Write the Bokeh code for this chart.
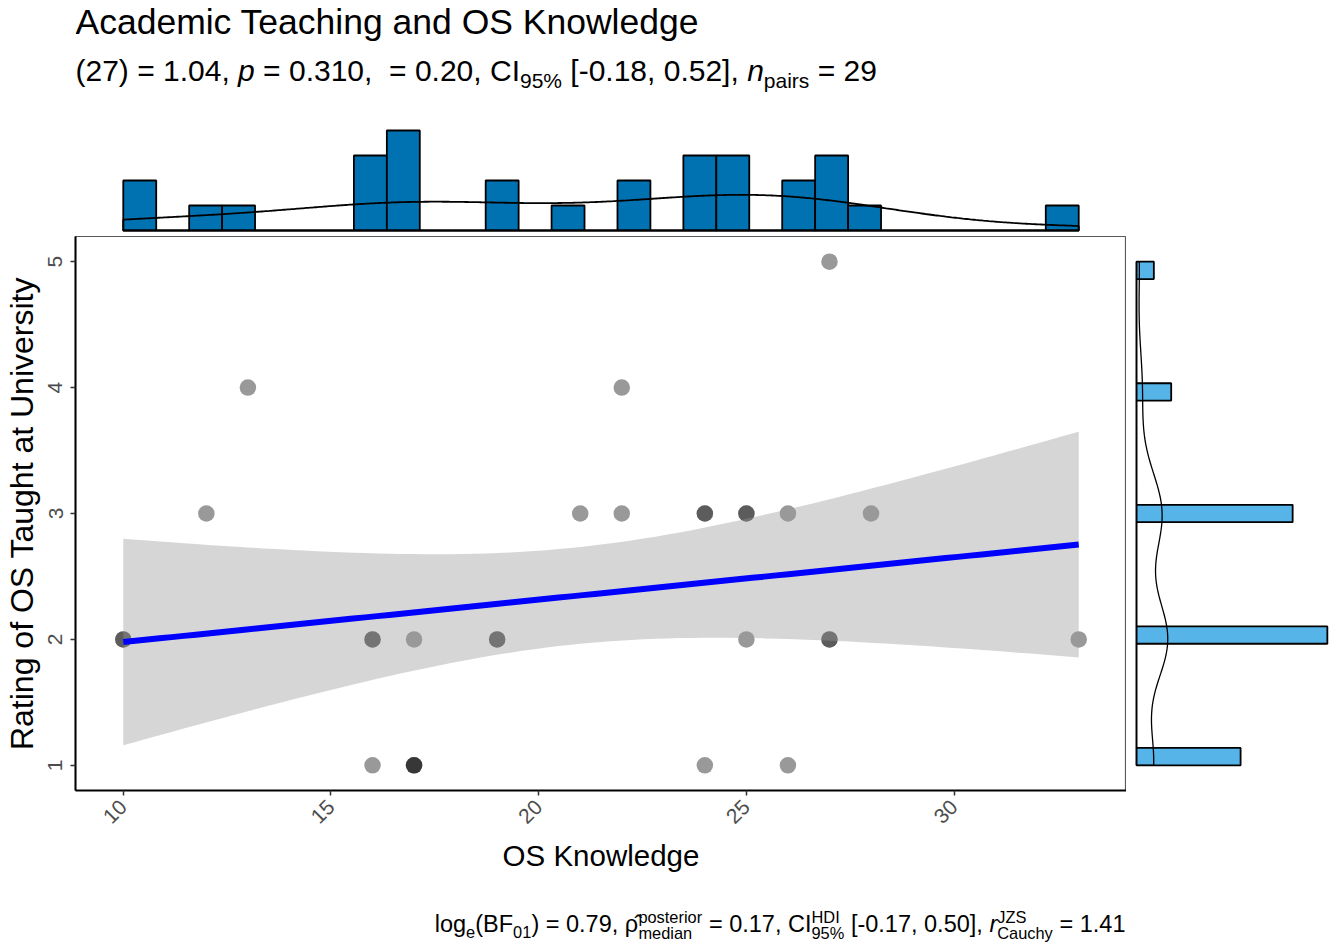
import numpy as np
from bokeh.plotting import figure
from bokeh.models import Range1d, FixedTicker, Label
from bokeh.layouts import column, row
from bokeh.embed import file_html
from bokeh.resources import INLINE

# ---------------- data ----------------
os_knowledge = [10, 10, 12, 13, 16, 16, 16, 17, 17, 17, 17, 19, 19, 21, 22,
                22, 24, 24, 24, 25, 25, 25, 26, 26, 27, 27, 27, 28, 33]
os_rating = [2, 2, 3, 4, 2, 2, 1, 2, 1, 1, 1, 2, 2, 3, 4,
             3, 3, 3, 1, 3, 3, 2, 3, 1, 5, 2, 2, 3, 2]
x_ticks = [10, 15, 20, 25, 30]
y_ticks = [1, 2, 3, 4, 5]

title_text = "Academic Teaching and OS Knowledge"
x_label = "OS Knowledge"
y_label = "Rating of OS Taught at University"
subtitle_parts = [("(27) = 1.04, ", "n"), ("p", "i"), (" = 0.310,", "n"),
                  ("  = 0.20, CI", "n"), ("95%", "sub"), (" [-0.18, 0.52], ", "n"),
                  ("n", "i"), ("pairs", "sub"), (" = 29", "n")]
caption_parts = [("log", "n"), ("e", "sub"), ("(BF", "n"), ("01", "sub"),
                 (") = 0.79, ", "n"), ("\u03c1\u0302", "n"), (("posterior", "median"), "stack"),
                 (" = 0.17, CI", "n"), (("HDI", "95%"), "stack"),
                 (" [-0.17, 0.50], ", "n"), ("r", "i"), (("JZS", "Cauchy"), "stack"),
                 (" = 1.41", "n")]
t_crit_df27 = 2.0518  # 97.5% quantile of t with 27 df

FONT = "Liberation Sans"
TOP_FILL = "#0072B2"
RIGHT_FILL = "#56B4E9"

x = np.asarray(os_knowledge, float)
y = np.asarray(os_rating, float)
n = len(x)

# ---------------- derived statistics ----------------
xbar, ybar = x.mean(), y.mean()
sxx = ((x - xbar) ** 2).sum()
slope = ((x - xbar) * (y - ybar)).sum() / sxx
icpt = ybar - slope * xbar
resid = y - (icpt + slope * x)
s_res = np.sqrt((resid ** 2).sum() / (n - 2))
xg = np.linspace(x.min(), x.max(), 80)
fit = icpt + slope * xg
se = s_res * np.sqrt(1.0 / n + (xg - xbar) ** 2 / sxx)
lo_band = fit - t_crit_df27 * se
hi_band = fit + t_crit_df27 * se


def kde(data, grid):
    d = np.asarray(data, float)
    m = len(d)
    sd = d.std(ddof=1)
    q75, q25 = np.percentile(d, [75, 25])
    spread = min(sd, (q75 - q25) / 1.34) if q75 > q25 else sd
    bw = 0.9 * spread * m ** -0.2
    z = (grid[:, None] - d[None, :]) / bw
    return np.exp(-0.5 * z ** 2).sum(1) / (m * bw * np.sqrt(2 * np.pi))


NBINS = 29
hx_counts, hx_edges = np.histogram(x, bins=NBINS, range=(x.min(), x.max()))
hy_counts, hy_edges = np.histogram(y, bins=NBINS, range=(y.min(), y.max()))
wx = hx_edges[1] - hx_edges[0]
wy = hy_edges[1] - hy_edges[0]
gx = np.linspace(x.min(), x.max(), 512)
gy = np.linspace(y.min(), y.max(), 512)
dx = kde(x, gx) * n * wx
dy = kde(y, gy) * n * wy

# ---------------- geometry (page pixels) ----------------
PAGE_W = 1331
TITLE_B = 100          # bottom of title block
PANEL_L, PANEL_R, PANEL_T, PANEL_B = 75, 1126, 236, 790
AXIS_B = 880           # bottom of main figure (below axis titles)
PAGE_B = 943           # bottom of caption block
XR = (8.85, 34.15)
YR = (0.8, 5.2)
TOP_T = 126
TOP_ZERO = 230
TOP_PPU = 25.0
RIGHT_ZERO = 1136
RIGHT_PPU = 17.35
BASE_FIX = 0.37        # renderer places 'alphabetic' labels this much (x size) lower

FW = PANEL_R - PANEL_L
FH = PANEL_B - PANEL_T
top_y0 = -(PANEL_T - TOP_ZERO) / TOP_PPU
top_y1 = top_y0 + (PANEL_T - TOP_T) / TOP_PPU
right_x0 = -(RIGHT_ZERO - PANEL_R) / RIGHT_PPU
right_x1 = right_x0 + (PAGE_W - PANEL_R) / RIGHT_PPU

# ---------------- text helpers ----------------
CW = {' ': 278, '(': 333, ')': 333, ',': 278, '-': 333, '.': 278, '%': 889, '=': 584,
      '[': 278, ']': 278, 'A': 667, 'B': 667, 'C': 722, 'D': 722, 'F': 611, 'H': 722,
      'I': 278, 'J': 500, 'S': 667, 'Z': 611, 'a': 556, 'c': 500, 'd': 556, 'e': 556,
      'g': 556, 'h': 556, 'i': 222, 'l': 222, 'm': 833, 'n': 556, 'o': 556, 'p': 556,
      'r': 333, 's': 500, 't': 278, 'u': 556, 'y': 500, '\u03c1': 577, '\u0302': 0}
for _d in "0123456789":
    CW[_d] = 556


def tw(s, size):
    return sum(CW.get(c, 556) for c in s) * size / 1000.0


def compose(parts, x0, base, S):
    out = []
    xx = x0
    s2 = 0.7 * S
    for txt, kind in parts:
        if kind in ("n", "i"):
            out.append((txt, xx, base, S, "italic" if kind == "i" else "normal"))
            xx += tw(txt, S)
        elif kind == "sub":
            out.append((txt, xx, base + 0.24 * S, s2, "normal"))
            xx += tw(txt, s2)
        else:
            sup, sub = txt
            out.append((sup, xx, base - 0.40 * S, s2, "normal"))
            out.append((sub, xx, base + 0.26 * S, s2, "normal"))
            xx += max(tw(sup, s2), tw(sub, s2))
    return out, xx - x0


def text_block(y_top, y_bottom):
    # a figure whose frame spans the block; data coordinates == page pixels
    f = figure(width=PAGE_W, height=y_bottom - y_top, min_border=0,
               min_border_left=PANEL_L, min_border_right=0,
               x_range=Range1d(PANEL_L, PAGE_W), y_range=Range1d(y_bottom, y_top),
               x_axis_location=None, y_axis_location=None, toolbar_location=None,
               output_backend="svg")
    f.xgrid.visible = False
    f.ygrid.visible = False
    f.outline_line_color = None
    return f


def add_texts(fig, pieces):
    for txt, px, py, size, style in pieces:
        lead = len(txt) - len(txt.lstrip(" "))
        body = txt.strip(" ")
        if not body:
            continue
        fig.add_layout(Label(x=px + tw(" " * lead, size), y=py - BASE_FIX * size,
                             text=body, text_font=FONT,
                             text_font_size=f"{size:.1f}px", text_font_style=style,
                             text_color="black", text_align="left",
                             text_baseline="alphabetic"))


def bare(fig):
    fig.xgrid.visible = False
    fig.ygrid.visible = False
    fig.outline_line_color = None


# ---------------- title block ----------------
title_fig = text_block(0, TITLE_B)
add_texts(title_fig, [(title_text, 75, 35, 35.5, "normal")])
sub_pieces, _ = compose(subtitle_parts, 75, 81, 30)
add_texts(title_fig, sub_pieces)

# ---------------- top marginal ----------------
top = figure(frame_width=FW, frame_height=PANEL_T - TOP_T, min_border=0,
             min_border_left=PANEL_L, min_border_top=TOP_T - TITLE_B, min_border_right=0,
             min_border_bottom=0, x_range=Range1d(*XR), y_range=Range1d(top_y0, top_y1),
             x_axis_location=None, y_axis_location=None, toolbar_location=None,
             output_backend="svg")
bare(top)
top.quad(left=hx_edges[:-1], right=hx_edges[1:], bottom=0, top=hx_counts,
         fill_color=TOP_FILL, line_color="black", line_width=1.8)
top.patch(np.r_[gx[0], gx, gx[-1]], np.r_[0, dx, 0], fill_color=None,
          line_color="black", line_width=1.8)

# ---------------- main scatter ----------------
main = figure(frame_width=FW, frame_height=FH, min_border=0, min_border_left=PANEL_L,
              min_border_right=0, min_border_top=0, min_border_bottom=AXIS_B - PANEL_B,
              x_range=Range1d(*XR), y_range=Range1d(*YR), toolbar_location=None,
              output_backend="svg")
main.xgrid.visible = False
main.ygrid.visible = False
main.background_fill_color = "white"
main.outline_line_color = "#595959"
main.outline_line_width = 1.2

main.scatter(x, y, size=16.5, fill_color="black", fill_alpha=0.4, line_color=None)
main.varea(x=xg, y1=lo_band, y2=hi_band, fill_color="#999999", fill_alpha=0.4)
main.line(xg, fit, line_color="#0000FF", line_width=6)

for ax, ticks in ((main.xaxis[0], x_ticks), (main.yaxis[0], y_ticks)):
    ax.ticker = FixedTicker(ticks=ticks)
    ax.minor_tick_line_color = None
    ax.major_tick_in = 0
    ax.major_tick_out = 5
    ax.major_tick_line_color = "#333333"
    ax.major_tick_line_width = 1.5
    ax.axis_line_color = "black"
    ax.axis_line_width = 2
    ax.major_label_text_font = FONT
    ax.major_label_text_font_size = "21px"
    ax.major_label_text_color = "#4D4D4D"
    ax.axis_label_text_font = FONT
    ax.axis_label_text_font_style = "normal"
    ax.axis_label_text_color = "black"

main.xaxis[0].axis_label = x_label
main.xaxis[0].axis_label_text_font_size = "29.5px"
main.xaxis[0].major_label_orientation = np.pi / 4
main.xaxis[0].major_label_standoff = 8
main.xaxis[0].axis_label_standoff = 6
main.yaxis[0].axis_label = y_label
main.yaxis[0].axis_label_text_font_size = "32px"
main.yaxis[0].major_label_orientation = "vertical"
main.yaxis[0].major_label_standoff = 8
main.yaxis[0].axis_label_standoff = 6

# ---------------- right marginal ----------------
right = figure(frame_width=PAGE_W - PANEL_R, frame_height=FH, min_border=0,
               min_border_left=0, min_border_right=0, min_border_top=0,
               min_border_bottom=AXIS_B - PANEL_B, x_range=Range1d(right_x0, right_x1),
               y_range=Range1d(*YR), x_axis_location=None, y_axis_location=None,
               toolbar_location=None, output_backend="svg")
bare(right)
right.quad(left=0, right=hy_counts, bottom=hy_edges[:-1], top=hy_edges[1:],
           fill_color=RIGHT_FILL, line_color="black", line_width=1.8)
right.patch(np.r_[0, dy, 0], np.r_[gy[0], gy, gy[-1]], fill_color=None,
            line_color="black", line_width=1.3)

# ---------------- caption block ----------------
cap_fig = text_block(AXIS_B, PAGE_B)
_, cap_w = compose(caption_parts, 0, 0, 23.5)
cap_pieces, _ = compose(caption_parts, 1125 - cap_w, 932, 23.5)
add_texts(cap_fig, cap_pieces)

layout = column(title_fig, top, row(main, right, spacing=0), cap_fig, spacing=0)
open("out.html", "w").write(file_html(layout, INLINE))
